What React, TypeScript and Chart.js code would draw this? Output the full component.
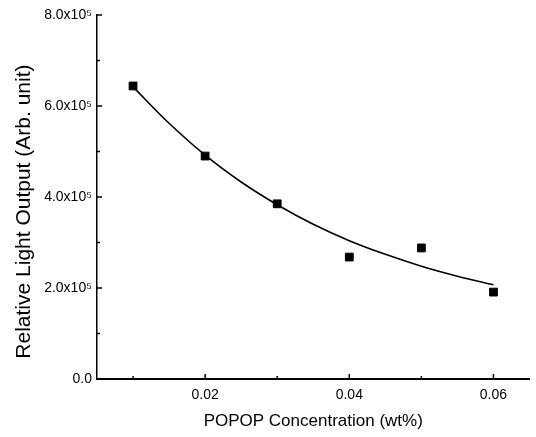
import React, { useEffect, useRef } from "react";
import { Chart, registerables } from "chart.js";

Chart.register(...registerables);

// Measured data points (POPOP concentration wt%, relative light output)
const concentration = [0.01, 0.02, 0.03, 0.04, 0.05, 0.06];
const lightOutput = [6.44e5, 4.9e5, 3.85e5, 2.68e5, 2.88e5, 1.91e5];

// Fitted curve
const fitX = [0.01, 0.015, 0.02, 0.025, 0.03, 0.035, 0.04, 0.045, 0.05, 0.055, 0.06];
const fitY = [6.42e5, 5.62e5, 4.92e5, 4.33e5, 3.83e5, 3.4e5, 3.04e5, 2.74e5, 2.48e5, 2.26e5, 2.07e5];

// Axis ticks
const xMajorTicks = [0.02, 0.04, 0.06];
const xMinorTicks = [0.01, 0.03, 0.05];
const yMajorTicks = [0, 2e5, 4e5, 6e5, 8e5];
const yMinorTicks = [1e5, 3e5, 5e5, 7e5];

const FONT = "'Liberation Sans', Arial, sans-serif";

const inwardTicks = {
  id: "inwardTicks",
  afterDraw(chart: any) {
    const { ctx, scales } = chart;
    const xs = scales.x;
    const ys = scales.y;
    ctx.save();
    ctx.strokeStyle = "#000";
    ctx.lineWidth = 1.5;
    const yBase = ys.getPixelForValue(0);
    const xBase = xs.getPixelForValue(xs.min);
    xMajorTicks.forEach((v) => {
      const px = xs.getPixelForValue(v);
      ctx.beginPath();
      ctx.moveTo(px, yBase);
      ctx.lineTo(px, yBase - 5);
      ctx.stroke();
    });
    xMinorTicks.forEach((v) => {
      const px = xs.getPixelForValue(v);
      ctx.beginPath();
      ctx.moveTo(px, yBase);
      ctx.lineTo(px, yBase - 3);
      ctx.stroke();
    });
    yMajorTicks.forEach((v) => {
      const py = ys.getPixelForValue(v);
      ctx.beginPath();
      ctx.moveTo(xBase, py);
      ctx.lineTo(xBase + 5, py);
      ctx.stroke();
    });
    yMinorTicks.forEach((v) => {
      const py = ys.getPixelForValue(v);
      ctx.beginPath();
      ctx.moveTo(xBase, py);
      ctx.lineTo(xBase + 3, py);
      ctx.stroke();
    });
    ctx.restore();
  },
};

export default function App() {
  const canvasRef = useRef<HTMLCanvasElement | null>(null);

  useEffect(() => {
    const canvas = canvasRef.current;
    if (!canvas) return;
    const chart = new Chart(canvas, {
      type: "scatter",
      data: {
        datasets: [
          {
            label: "Measured",
            data: concentration.map((x, i) => ({ x, y: lightOutput[i] })),
            backgroundColor: "#000",
            borderColor: "#000",
            pointStyle: "rect",
            pointRadius: 5.5,
            showLine: false,
            order: 0,
          },
          {
            label: "Fit",
            data: fitX.map((x, i) => ({ x, y: fitY[i] })),
            showLine: true,
            borderColor: "#000",
            borderWidth: 1.6,
            pointRadius: 0,
            cubicInterpolationMode: "monotone",
            fill: false,
            order: 1,
          },
        ],
      },
      options: {
        responsive: false,
        animation: false,
        layout: { padding: { left: 0, top: 15, right: 1, bottom: 0 } },
        plugins: {
          legend: { display: false },
          tooltip: { enabled: false },
        },
        scales: {
          x: {
            type: "linear",
            min: 0.005,
            max: 0.065,
            afterBuildTicks: (scale: any) => {
              scale.ticks = xMajorTicks.map((v) => ({ value: v }));
            },
            afterFit: (scale: any) => {
              scale.height = 58;
            },
            grid: { display: true, drawOnChartArea: false, drawTicks: false },
            border: { display: true, color: "#000", width: 2 },
            ticks: {
              color: "#000",
              padding: 8,
              maxRotation: 0,
              font: { family: FONT, size: 14 },
              callback: (v: any) => Number(v).toFixed(2),
            },
            title: {
              display: true,
              text: "POPOP Concentration (wt%)",
              color: "#000",
              font: { family: FONT, size: 17 },
              padding: { top: 0, bottom: 5 },
            },
          },
          y: {
            type: "linear",
            min: 0,
            max: 8e5,
            afterBuildTicks: (scale: any) => {
              scale.ticks = yMajorTicks.map((v) => ({ value: v }));
            },
            afterFit: (scale: any) => {
              scale.width = 97;
            },
            grid: { display: true, drawOnChartArea: false, drawTicks: false },
            border: { display: true, color: "#000", width: 1.5 },
            ticks: {
              color: "#000",
              padding: 5,
              font: { family: FONT, size: 14 },
              callback: (v: any) =>
                Number(v) === 0 ? "0.0" : (Number(v) / 1e5).toFixed(1) + "x10\u2075",
            },
            title: {
              display: true,
              text: "Relative Light Output (Arb. unit)     ",
              color: "#000",
              font: { family: FONT, size: 21 },
              padding: { top: 12, bottom: 0 },
            },
          },
        },
      },
      plugins: [inwardTicks],
    });
    return () => chart.destroy();
  }, []);

  return (
    <div style={{ position: "fixed", left: 0, top: 0, width: 536, height: 437, background: "#fff" }}>
      <canvas ref={canvasRef} width={536} height={437} style={{ display: "block" }} />
    </div>
  );
}
